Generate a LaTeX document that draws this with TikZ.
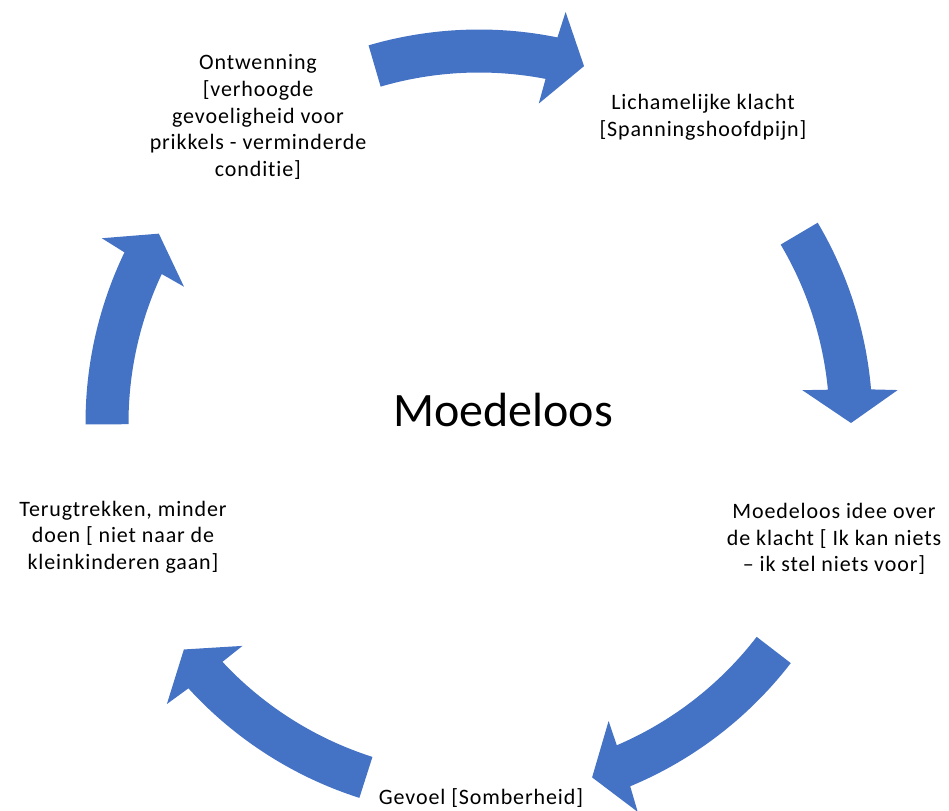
\documentclass[tikz,border=0pt]{standalone}
\usepackage{fontspec}
\setmainfont{Carlito}
\newfontfamily\labelfont{Carlito}[LetterSpace=4, Ligatures={NoCommon}]
\usetikzlibrary{calc}
\definecolor{cycleblue}{RGB}{68,114,196}

\tikzset{
  cyclelabel/.style={align=center, inner sep=0pt, font=\labelfont\fontsize{16.5}{20}\selectfont},
  cyclearrow/.style={fill=cycleblue, draw=none}
}

\begin{document}
\begin{tikzpicture}[x=0.75pt,y=0.75pt,yscale=-1,xscale=1]
\useasboundingbox (0,0) rectangle (949,810);

% centre of the cycle
\coordinate (c) at (479,423);

% Curved block arrows (tail angle / tip angle)
\foreach \ta/\pa in {-106.3/-73.6, -30.6/0, 37.6/72.3, 107.7/142.5, 179.8/210.6}{
  \pgfmathsetmacro{\ai}{\pa-5.45}
  \pgfmathsetmacro{\bi}{\pa-5.8}
  \pgfmathsetmacro{\bo}{\pa-4.5}
  \pgfmathsetmacro{\ao}{\pa-4.9}
  \fill[cyclearrow] ($(c)+(\ta:350.5)$) arc[start angle=\ta, end angle=\ai, radius=350.5]
    -- ($(c)+(\bi:325)$) -- ($(c)+(\pa:372)$) -- ($(c)+(\bo:420)$)
    -- ($(c)+(\ao:393.5)$) arc[start angle=\ao, end angle=\ta, radius=393.5] -- cycle;
}

% Text Node
\node[font=\fontsize{36}{43}\selectfont, inner sep=0pt] (title) at (503,410) {Moedeloos};
% Text Node
\node[cyclelabel] (klacht) at (703,117) {Lichamelijke klacht\\{[}Spanningshoofdpijn]};
% Text Node
\node[cyclelabel] (idee) at (834,539) {Moedeloos idee over\\de klacht [ Ik kan niets\\– ik stel niets voor]};
% Text Node
\node[cyclelabel] (gevoel) at (481,798) {Gevoel [Somberheid]};
% Text Node
\node[cyclelabel] (terug) at (123,537) {Terugtrekken, minder\\doen [ niet naar de\\kleinkinderen gaan]};
% Text Node
\node[cyclelabel] (ontwenning) at (258,117) {Ontwenning\\{[}verhoogde\\gevoeligheid voor\\prikkels - verminderde\\conditie]};

\end{tikzpicture}
\end{document}
